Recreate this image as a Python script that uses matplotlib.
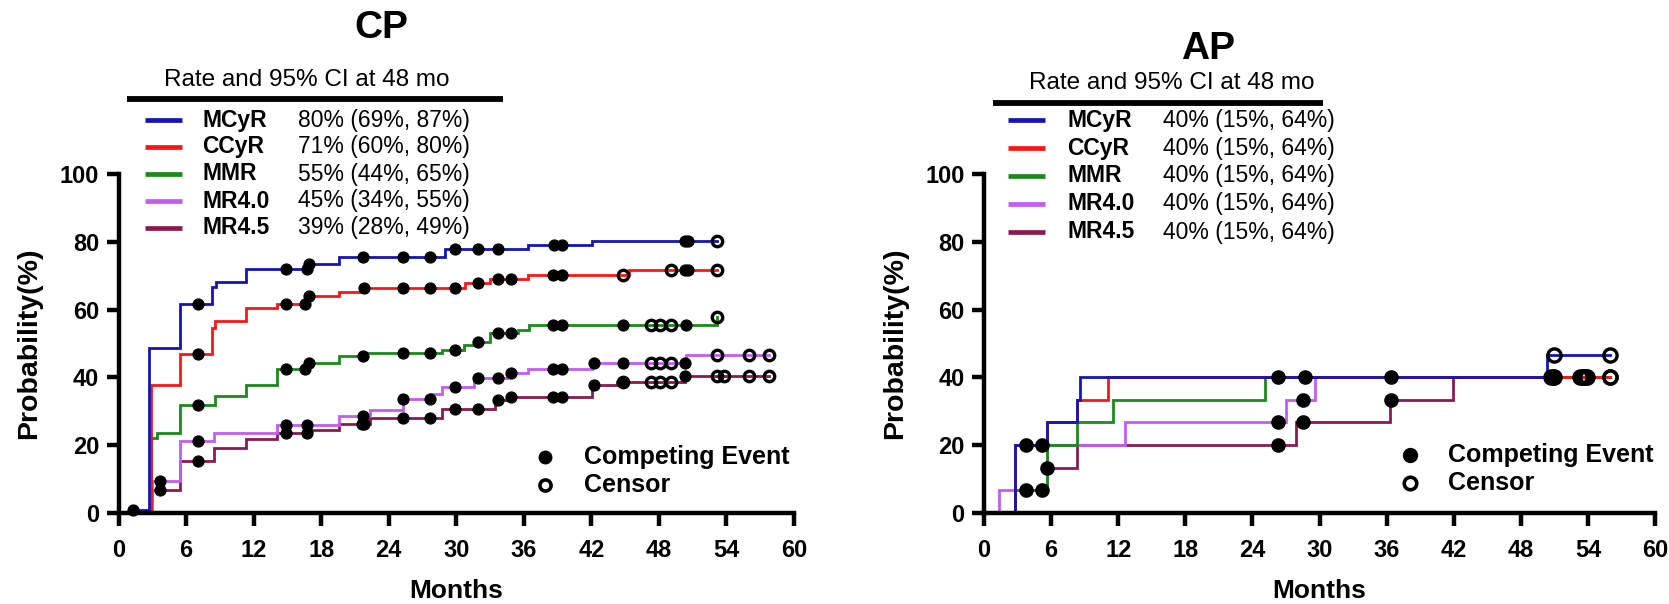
import numpy as np
import matplotlib
matplotlib.use("Agg")
import matplotlib.pyplot as plt
from matplotlib.lines import Line2D

plt.rcParams['font.family'] = ['Liberation Sans', 'DejaVu Sans']

W, H = 1669, 604

# ---------------- data ----------------
series_names = ["MCyR", "CCyR", "MMR", "MR4.0", "MR4.5"]
series_colors = ["#1414b8", "#ff1414", "#1a8a1a", "#c45cf2", "#8e1850"]

cp_rates = ["80% (69%, 87%)", "71% (60%, 80%)", "55% (44%, 65%)",
            "45% (34%, 55%)", "39% (28%, 49%)"]
ap_rates = ["40% (15%, 64%)"] * 5

# CP: step times (months) and cumulative probabilities (%)
cp_mcyr_t = [0, 1.3, 2.7, 5.5, 8.3, 8.7, 11.3, 16.8, 19.6, 29.0, 36.4, 42.1]
cp_mcyr_v = [0, 0.8, 48.8, 61.6, 66.8, 68.2, 71.9, 73.4, 75.4, 77.8, 79.0, 80.3]
cp_mcyr_end = 53.2
cp_mcyr_evt = [1.3, 7.1, 14.9, 16.7, 16.9, 21.7, 25.3, 27.7, 29.9, 31.9, 33.7, 38.7, 39.4, 50.3, 50.6]
cp_mcyr_cens = [53.2]

cp_ccyr_t = [0, 2.9, 5.5, 8.3, 8.6, 11.3, 14.1, 16.8, 19.6, 21.5, 30.8, 33.0, 36.4, 45.3]
cp_ccyr_v = [0, 37.9, 46.8, 54.7, 56.7, 60.6, 61.6, 64.0, 65.2, 66.5, 67.7, 68.9, 70.2, 71.7]
cp_ccyr_end = 53.2
cp_ccyr_evt = [7.1, 14.9, 16.6, 16.9, 21.8, 25.3, 27.7, 29.9, 31.9, 33.7, 34.9, 38.6, 39.4, 50.3, 50.6]
cp_ccyr_cens = [44.8, 49.1, 53.2]

cp_mmr_t = [0, 2.9, 3.4, 5.5, 8.6, 11.3, 14.1, 16.8, 19.6, 21.9, 28.7, 30.7, 31.6, 33.0, 35.5, 36.5, 53.2]
cp_mmr_v = [0, 22.2, 23.6, 32.0, 34.5, 37.9, 42.4, 44.3, 46.3, 47.3, 48.1, 49.5, 50.5, 53.0, 53.9, 55.5, 57.9]
cp_mmr_end = 53.2
cp_mmr_evt = [7.1, 14.9, 16.6, 16.9, 21.7, 25.3, 27.7, 29.9, 31.9, 33.7, 34.9, 38.6, 39.4, 44.8, 50.4]
cp_mmr_cens = [47.3, 48.1, 49.1, 53.2]

cp_mr40_t = [0, 3.0, 5.5, 8.5, 14.1, 19.6, 22.3, 25.3, 27.8, 28.7, 31.6, 34.5, 36.4, 42.1, 50.4]
cp_mr40_v = [0, 9.4, 21.2, 23.6, 26.1, 28.6, 30.5, 33.5, 35.0, 37.3, 39.7, 41.4, 42.4, 44.2, 46.6]
cp_mr40_end = 57.8
cp_mr40_evt = [3.7, 7.1, 14.9, 16.7, 21.7, 25.3, 27.7, 29.9, 31.9, 33.7, 34.9, 38.6, 39.4, 42.2, 44.8, 50.3]
cp_mr40_cens = [47.3, 48.1, 49.1, 53.2, 56.0, 57.8]

cp_mr45_t = [0, 3.0, 5.5, 8.5, 11.3, 14.1, 16.8, 19.6, 22.3, 28.7, 33.4, 34.6, 42.1, 44.3, 50.3]
cp_mr45_v = [0, 6.9, 15.3, 19.2, 21.7, 23.6, 24.6, 26.4, 28.1, 30.6, 33.3, 34.1, 37.8, 38.7, 40.4]
cp_mr45_end = 57.8
cp_mr45_evt = [3.7, 7.1, 14.9, 16.7, 21.6, 21.8, 25.3, 27.7, 29.9, 31.9, 33.7, 34.9, 38.6, 39.4, 42.2, 44.8, 50.3]
cp_mr45_cens = [44.8, 47.3, 48.1, 49.1, 53.2, 53.8, 56.0, 57.8]

# AP
ap_mcyr_t = [0, 2.8, 5.6, 8.3, 8.6, 50.3]
ap_mcyr_v = [0, 20, 26.7, 33.3, 40, 46.7]
ap_mcyr_end = 56.0
ap_mcyr_evt = [3.8, 5.15, 26.3, 28.7, 36.4]
ap_mcyr_cens = [51.0, 56.0]

ap_ccyr_t = [0, 2.8, 5.6, 8.3, 11.1]
ap_ccyr_v = [0, 20, 26.7, 33.3, 40]
ap_ccyr_end = 56.0
ap_ccyr_evt = [50.7]
ap_ccyr_cens = [53.3, 53.9, 56.0]

ap_mmr_t = [0, 2.8, 5.6, 8.3, 11.5, 25.1]
ap_mmr_v = [0, 6.67, 20, 26.7, 33.3, 40]
ap_mmr_end = 56.0
ap_mmr_evt = [3.8, 5.15]
ap_mmr_cens = [50.7, 53.6]

ap_mr40_t = [0, 1.3, 5.6, 12.6, 27.0, 29.6]
ap_mr40_v = [0, 6.67, 20, 26.7, 33.3, 40]
ap_mr40_end = 56.0
ap_mr40_evt = [26.3, 28.5]
ap_mr40_cens = [51.0, 53.6]

ap_mr45_t = [0, 2.8, 5.6, 8.3, 27.9, 36.3, 41.9]
ap_mr45_v = [0, 6.67, 13.3, 20, 26.7, 33.3, 40]
ap_mr45_end = 56.0
ap_mr45_evt = [5.65, 26.3, 28.5, 36.4]
ap_mr45_cens = [50.9, 53.8, 56.0]

cp_data = [
    (cp_mcyr_t, cp_mcyr_v, cp_mcyr_end, cp_mcyr_evt, cp_mcyr_cens),
    (cp_ccyr_t, cp_ccyr_v, cp_ccyr_end, cp_ccyr_evt, cp_ccyr_cens),
    (cp_mmr_t, cp_mmr_v, cp_mmr_end, cp_mmr_evt, cp_mmr_cens),
    (cp_mr40_t, cp_mr40_v, cp_mr40_end, cp_mr40_evt, cp_mr40_cens),
    (cp_mr45_t, cp_mr45_v, cp_mr45_end, cp_mr45_evt, cp_mr45_cens),
]
ap_data = [
    (ap_mcyr_t, ap_mcyr_v, ap_mcyr_end, ap_mcyr_evt, ap_mcyr_cens),
    (ap_ccyr_t, ap_ccyr_v, ap_ccyr_end, ap_ccyr_evt, ap_ccyr_cens),
    (ap_mmr_t, ap_mmr_v, ap_mmr_end, ap_mmr_evt, ap_mmr_cens),
    (ap_mr40_t, ap_mr40_v, ap_mr40_end, ap_mr40_evt, ap_mr40_cens),
    (ap_mr45_t, ap_mr45_v, ap_mr45_end, ap_mr45_evt, ap_mr45_cens),
]

x_ticks = [0, 6, 12, 18, 24, 30, 36, 42, 48, 54, 60]
y_ticks = [0, 20, 40, 60, 80, 100]

# ---------------- figure ----------------
fig = plt.figure(figsize=(W / 100, H / 100), dpi=100)


def fx(x):
    return x / W


def fy(y):
    return 1 - y / H


def step_val(t, v, x):
    idx = np.searchsorted(np.asarray(t), x, side='right') - 1
    return np.asarray(v)[np.clip(idx, 0, len(v) - 1)]


def make_axes(left_px, right_px, data, dot_ms, cens_ms):
    ax = fig.add_axes([fx(left_px), fy(513), (right_px - left_px) / W, (513 - 174) / H])
    ax.set_xlim(0, 60)
    ax.set_ylim(0, 100)
    for s in ['top', 'right']:
        ax.spines[s].set_visible(False)
    for s in ['left', 'bottom']:
        ax.spines[s].set_linewidth(3.2)
    ax.set_xticks(x_ticks)
    ax.set_yticks(y_ticks)
    ax.tick_params(width=3.2, length=9, labelsize=17)
    ax.tick_params(axis='x', pad=10)
    ax.tick_params(axis='y', pad=5)
    for lab in ax.get_xticklabels() + ax.get_yticklabels():
        lab.set_fontweight('bold')
    ax.set_xlabel("Months", fontsize=19, fontweight='bold', labelpad=12)
    ax.set_ylabel("Probability(%)", fontsize=20.5, fontweight='bold')
    ax.yaxis.set_label_coords(-(left_px - (left_px - 76)) / (right_px - left_px), 0.5)
    # draw bottom series first
    order = [4, 3, 2, 1, 0]
    for k, i in enumerate(order):
        t, v, end, evt, cens = data[i]
        tt = list(t) + [end]
        vv = list(v) + [v[-1]]
        ax.step(tt, vv, where='post', color=series_colors[i], lw=2.0,
                zorder=2 + k * 0.1, clip_on=False, solid_joinstyle='miter')
    for i in order:
        t, v, end, evt, cens = data[i]
        ax.plot(evt, step_val(t, v, evt), 'o', color='black', ms=dot_ms,
                zorder=5, clip_on=False, lw=0)
        ax.plot(cens, step_val(t, v, cens), 'o', mfc='none', mec='black',
                mew=2.4, ms=cens_ms, zorder=5, clip_on=False, lw=0)
    return ax


ax1 = make_axes(118.5, 794, cp_data, 7.8, 7.5)
ax2 = make_axes(984, 1655, ap_data, 9.5, 9.5)

# titles
fig.text(fx(381), fy(28), "CP", fontsize=28, fontweight='bold', ha='center', va='center')
fig.text(fx(1208), fy(49), "AP", fontsize=28, fontweight='bold', ha='center', va='center')


def rate_legend(header_cx, header_y, line_x0, line_x1, line_y, h_x0, h_x1,
                rows_y, name_x, val_x, rates):
    fig.text(fx(header_cx), fy(header_y), "Rate and 95% CI at 48 mo", fontsize=17.5,
             ha='center', va='center')
    fig.add_artist(Line2D([fx(line_x0), fx(line_x1)], [fy(line_y), fy(line_y)],
                          color='black', lw=4.2, solid_capstyle='butt'))
    for i, ry in enumerate(rows_y):
        fig.add_artist(Line2D([fx(h_x0), fx(h_x1)], [fy(ry), fy(ry)],
                              color=series_colors[i], lw=3.4, solid_capstyle='butt'))
        fig.text(fx(name_x), fy(ry), series_names[i], fontsize=16.5, fontweight='bold',
                 ha='left', va='center')
        fig.text(fx(val_x), fy(ry), rates[i], fontsize=16.5, ha='left', va='center')


rate_legend(307, 80, 127, 503, 99, 145, 182, [120, 147, 174, 201, 228], 202, 298, cp_rates)
rate_legend(1172, 83, 993, 1323, 103, 1008, 1045, [120, 148, 176, 204, 232], 1067, 1163, ap_rates)


def event_legend(mx, y1, y2, tx, ms):
    fig.add_artist(Line2D([fx(mx)], [fy(y1)], marker='o', color='black', ms=ms, lw=0))
    fig.add_artist(Line2D([fx(mx)], [fy(y2)], marker='o', mfc='none', mec='black',
                          mew=2.6, ms=ms - 1, lw=0))
    fig.text(fx(tx), fy(y1), "Competing Event", fontsize=18, fontweight='bold',
             ha='left', va='center')
    fig.text(fx(tx), fy(y2), "Censor", fontsize=18, fontweight='bold',
             ha='left', va='center')


event_legend(545, 457, 485, 584, 9)
event_legend(1410, 455, 483, 1448, 10)

fig.savefig("out.png", dpi=100, facecolor='white')
